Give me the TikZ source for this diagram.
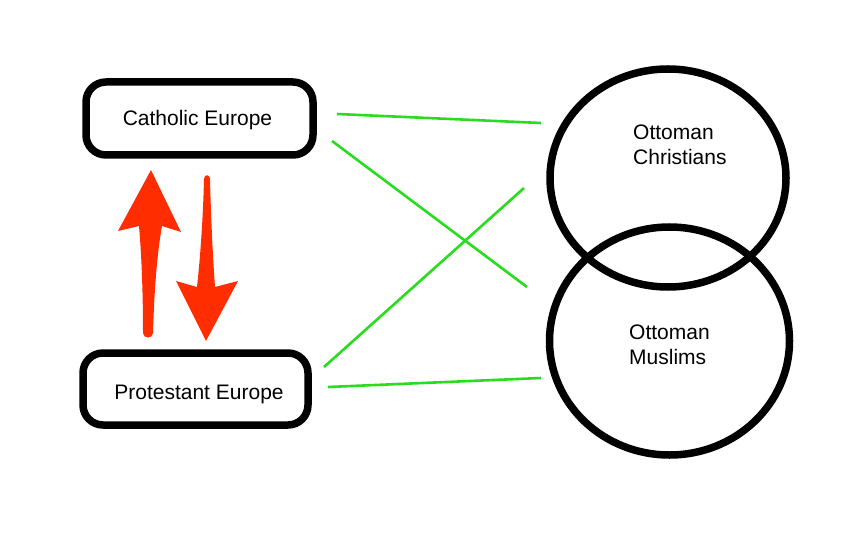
\documentclass[tikz,border=0pt]{standalone}
\usepackage{fontspec}
\setmainfont{Liberation Sans}
\usetikzlibrary{shapes.geometric}
\definecolor{linkgreen}{RGB}{40,220,30}
\definecolor{arrowred}{RGB}{255,45,0}
\begin{document}
\begin{tikzpicture}[x=1pt,y=-1pt,
  boxstyle/.style={draw=black,line width=7.5pt,rounded corners=20pt,minimum width=227pt,minimum height=73pt,inner sep=0pt},
  ringstyle/.style={draw=black,line width=7.5pt,ellipse,inner sep=0pt},
  labelstyle/.style={font=\fontsize{21}{25}\selectfont,align=left,inner sep=0pt},
  link/.style={draw=linkgreen,line width=2.6pt},
  redarrow/.style={fill=arrowred,draw=none}]
\useasboundingbox (0,0) rectangle (858,545);
\node[boxstyle] (cat) at (199.5,118.5) {};
\node[boxstyle,minimum width=225pt,minimum height=72pt] (prot) at (195.5,389) {};
\node[labelstyle] (catt) at (197.5,120) {Catholic Europe};
\node[labelstyle] (prott) at (199,394) {Protestant Europe};
\node[ringstyle,minimum width=236pt,minimum height=218pt] (oc) at (668,178) {};
\node[ringstyle,minimum width=240pt,minimum height=228pt] (om) at (669.5,341) {};
\node[labelstyle,anchor=west] (oct) at (633,145) {Ottoman\\Christians};
\node[labelstyle,anchor=west] (omt) at (629,344.5) {Ottoman\\Muslims};
\coordinate (c1) at (337,114); \coordinate (c2) at (541,123);
\coordinate (c3) at (332,141); \coordinate (c4) at (527,287);
\coordinate (c5) at (324,367); \coordinate (c6) at (524,188);
\coordinate (c7) at (328,387); \coordinate (c8) at (541,378);
\draw[link] (c1) -- (c2);
\draw[link] (c3) -- (c4);
\draw[link] (c5) -- (c6);
\draw[link] (c7) -- (c8);
% up arrow
\path[redarrow] (151,170) -- (181,232) -- (162,226)
  .. controls (156,260) and (154,300) .. (153,333)
  .. controls (153,339) and (143,339) .. (143,333)
  .. controls (143,300) and (142,260) .. (139,226) -- (118,231) -- cycle;
% down arrow
\path[redarrow] (204,179) .. controls (204,174) and (210,174) .. (210,179)
  .. controls (211,220) and (213,260) .. (215,287) -- (238,281) -- (206,341)
  -- (176,281) -- (197,287) .. controls (200,260) and (203,220) .. (204,179) -- cycle;
\end{tikzpicture}
\end{document}
